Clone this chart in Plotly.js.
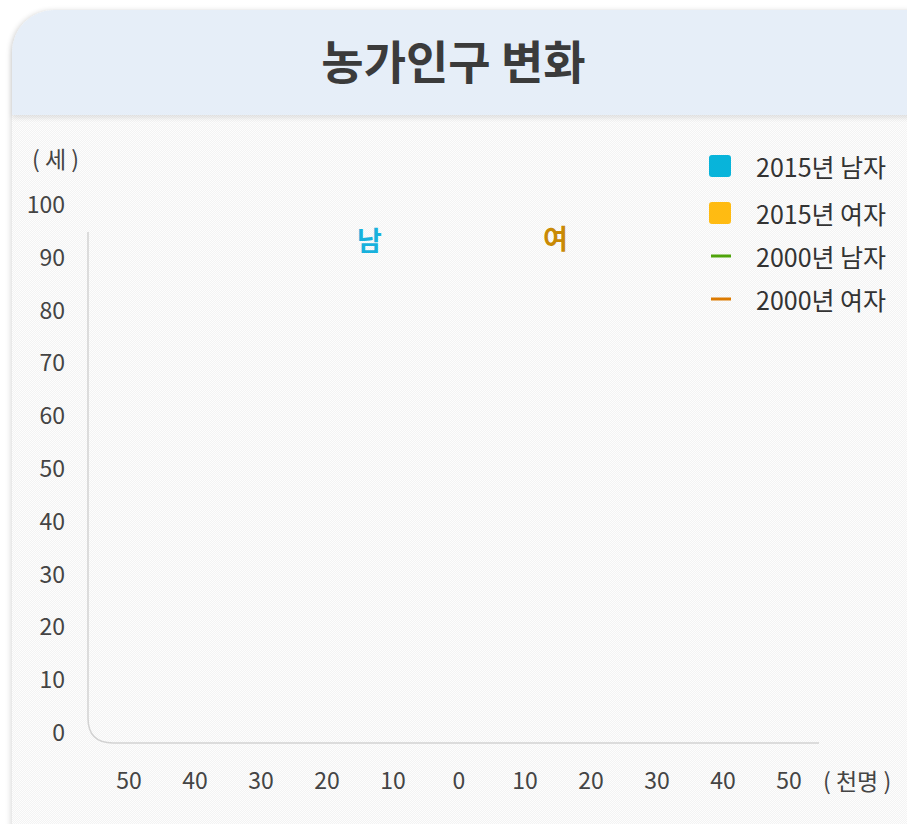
<!DOCTYPE html>
<html>
<head>
<meta charset="utf-8">
<script src="https://cdn.plot.ly/plotly-3.0.1.min.js"></script>
<style>
  html, body { margin:0; padding:0; background:#ffffff; }
  #wrap { position:relative; width:907px; height:824px; overflow:hidden; }
  #card { position:absolute; left:12px; top:10px; width:940px; height:860px;
          border-radius:42px 42px 0 0;
          background: repeating-conic-gradient(#f3f3f3 0 25%, #fdfdfd 0 50%) 0 0 / 2px 2px;
          box-shadow: -2px 0 5px rgba(0,0,0,0.12); }
  #head { position:absolute; left:12px; top:10px; width:940px; height:105px;
          border-radius:42px 42px 0 0; background:#e6eef8;
          box-shadow: 0 3px 5px rgba(0,0,0,0.10); }
  #chart { position:absolute; left:0; top:0; width:907px; height:824px; }
</style>
</head>
<body>
<div id="wrap">
  <div id="card"></div>
  <div id="head"></div>
  <div id="chart"></div>
</div>
<script>
// ---- data (no bars or lines are visible in the reference) ----
const ageGroups = [];
const male2015 = [];
const female2015 = [];
const male2000 = [];
const female2000 = [];
const seriesNames = ['2015년 남자', '2015년 여자', '2000년 남자', '2000년 여자'];
const seriesColors = ['#08b4da', '#ffbb12', '#4fa40a', '#dc7a00'];
const xTickVals = [-50, -40, -30, -20, -10, 0, 10, 20, 30, 40, 50];
const xTickText = ['50', '40', '30', '20', '10', '0', '10', '20', '30', '40', '50'];
const yTickVals = [0, 10, 20, 30, 40, 50, 60, 70, 80, 90, 100];

const FONT = '"Noto Sans CJK KR", "Noto Sans", sans-serif';

const traces = [
  { type:'bar', orientation:'h', name:seriesNames[0], y:ageGroups, x:male2015.map(v => -v),
    marker:{color:seriesColors[0]}, showlegend:false },
  { type:'bar', orientation:'h', name:seriesNames[1], y:ageGroups, x:female2015,
    marker:{color:seriesColors[1]}, showlegend:false },
  { type:'scatter', mode:'lines', name:seriesNames[2], y:ageGroups, x:male2000.map(v => -v),
    line:{color:seriesColors[2], width:3}, showlegend:false },
  { type:'scatter', mode:'lines', name:seriesNames[3], y:ageGroups, x:female2000,
    line:{color:seriesColors[3], width:3}, showlegend:false }
];

const W = 731, H = 553, L = 88, B = 743;
const px = v => (v - L) / W;
const py = v => (B - v) / H;
const rx = 25 / W, ry = 25 / H, yTop = py(232);

// custom legend (symbols + labels), placed in pixel terms
const legendRows = [166, 213, 256, 299];
const legendShapes = [];
const legendAnns = [];
legendRows.forEach((row, i) => {
  if (i < 2) {
    const s = 11, r = 3;
    const x0 = px(720 - s), x1 = px(720 + s), y0 = py(row + s), y1 = py(row - s);
    const dx = r / W, dy = r / H;
    legendShapes.push({ type:'path', xref:'paper', yref:'paper',
      path:`M ${x0+dx} ${y0} L ${x1-dx} ${y0} Q ${x1} ${y0} ${x1} ${y0+dy} L ${x1} ${y1-dy} Q ${x1} ${y1} ${x1-dx} ${y1} L ${x0+dx} ${y1} Q ${x0} ${y1} ${x0} ${y1-dy} L ${x0} ${y0+dy} Q ${x0} ${y0} ${x0+dx} ${y0} Z`,
      fillcolor:seriesColors[i], line:{width:0} });
  } else {
    legendShapes.push({ type:'line', xref:'paper', yref:'paper',
      x0:px(711), x1:px(731), y0:py(row), y1:py(row),
      line:{color:seriesColors[i], width:3} });
  }
  legendAnns.push({ text:seriesNames[i], xref:'paper', yref:'paper', x:px(754), y:py(row),
    xanchor:'left', yanchor:'middle', showarrow:false,
    font:{family:FONT, size:25, color:'#333333'} });
});

const layout = {
  width:907, height:824,
  margin:{l:L, r:88, t:190, b:81, pad:0},
  paper_bgcolor:'rgba(0,0,0,0)', plot_bgcolor:'rgba(0,0,0,0)',
  font:{family:FONT, color:'#444444', size:23},
  barmode:'overlay',
  showlegend:false,
  title:{text:'<b>농가인구 변화</b>', x:0.5, xanchor:'center', y:1 - 63/824, yanchor:'middle',
         yref:'container', font:{family:FONT, size:46, color:'#3b3b3b'}},
  xaxis:{range:[-56.21, 54.55], tickvals:xTickVals, ticktext:xTickText, showgrid:false,
         zeroline:false, showline:false, ticks:'', ticklabelstandoff:22, fixedrange:true,
         tickfont:{family:FONT, size:23, color:'#444444'}},
  yaxis:{range:[-1.894, 102.84], tickvals:yTickVals, showgrid:false, zeroline:false,
         showline:false, ticks:'', ticklabelstandoff:22, fixedrange:true,
         tickfont:{family:FONT, size:23, color:'#444444'}},
  shapes:[
    { type:'path', xref:'paper', yref:'paper',
      path:`M 0 ${yTop} L 0 ${ry} Q 0 0 ${rx} 0 L 1 0`,
      line:{color:'#d2d2d2', width:1.5} }
  ].concat(legendShapes),
  annotations:[
    { text:'<b>남</b>', x:-13.6, y:93.4, xref:'x', yref:'y', showarrow:false,
      xanchor:'center', yanchor:'middle', font:{family:FONT, size:27, color:'#18b1dc'} },
    { text:'<b>여</b>', x:14.6, y:93.8, xref:'x', yref:'y', showarrow:false,
      xanchor:'center', yanchor:'middle', font:{family:FONT, size:27, color:'#c98a05'} },
    { text:'( 세 )', xref:'paper', yref:'paper', x:px(55), y:py(158), showarrow:false,
      xanchor:'center', yanchor:'middle', font:{family:FONT, size:23, color:'#444444'} },
    { text:'( 천명 )', xref:'paper', yref:'paper', x:px(857), y:py(780), showarrow:false,
      xanchor:'center', yanchor:'middle', font:{family:FONT, size:23, color:'#444444'} }
  ].concat(legendAnns)
};

Plotly.newPlot('chart', traces, layout, {displayModeBar:false, staticPlot:true});
</script>
</body>
</html>
